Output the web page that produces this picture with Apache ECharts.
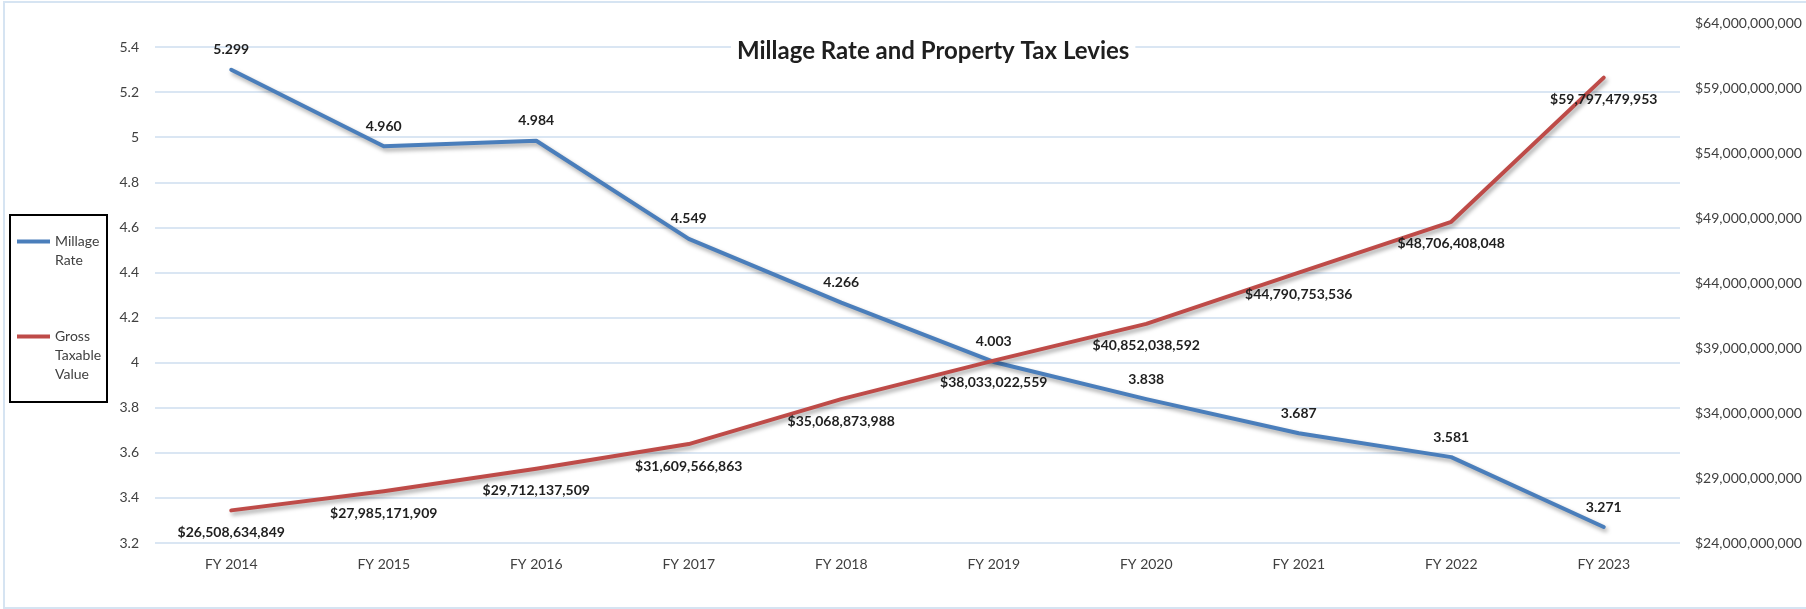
<!DOCTYPE html>
<html>
<head>
<meta charset="utf-8">
<script src="https://cdn.jsdelivr.net/npm/echarts@6/dist/echarts.min.js"></script>
<style>
  html, body { margin: 0; padding: 0; background: #ffffff; }
  #chart { width: 1806px; height: 609px; }
</style>
</head>
<body>
<div id="chart"></div>
<script>
// Fiscal years on the category axis
const categories = ['FY 2014', 'FY 2015', 'FY 2016', 'FY 2017', 'FY 2018',
                    'FY 2019', 'FY 2020', 'FY 2021', 'FY 2022', 'FY 2023'];

// Millage rate per year (left axis)
const millageRate = [5.299, 4.960, 4.984, 4.549, 4.266, 4.003, 3.838, 3.687, 3.581, 3.271];

// Gross taxable value per year in dollars (right axis)
const grossTaxableValue = [26508634849, 27985171909, 29712137509, 31609566863, 35068873988,
                           38033022559, 40852038592, 44790753536, 48706408048, 59797479953];

// Axis ranges and tick steps
const rateTicks = { min: 3.2, max: 5.4, interval: 0.2 };
const valueTicks = { min: 24000000000, max: 64000000000, interval: 5000000000 };

const FONT = 'Lato, "Noto Sans", sans-serif';
const BLUE = '#4A7EBB';
const RED = '#BE4B48';
const GRID_COLOR = '#DAE6F3';
const AXIS_TEXT = '#404040';
const LABEL_TEXT = '#1F1F1F';

const dollars = v => '$' + Math.round(v).toLocaleString('en-US');

// Legend text: one word per line, with the first line level with the swatch
// (legend text is centred on the swatch, so blank lines are added above)
const legendText = name => {
  const words = name.split(' ');
  return '\n'.repeat(words.length - 1) + words.join('\n');
};

const lineShadow = {
  shadowColor: 'rgba(0,0,0,0.35)',
  shadowBlur: 4,
  shadowOffsetX: 2,
  shadowOffsetY: 3
};

const chart = echarts.init(document.getElementById('chart'), null, { renderer: 'canvas' });

chart.setOption({
  animation: false,
  backgroundColor: '#ffffff',
  textStyle: { fontFamily: FONT },
  title: {
    text: 'Millage Rate and Property Tax Levies',
    left: 731,
    top: 33,
    padding: [4, 6],
    backgroundColor: '#ffffff',
    textStyle: {
      fontFamily: FONT,
      fontSize: 24,
      fontWeight: 'bold',
      color: LABEL_TEXT,
      lineHeight: 28
    }
  },
  legend: {
    orient: 'vertical',
    left: 10,
    top: 213,
    padding: [0, 5, 18, 7],
    itemGap: 19,
    itemWidth: 33,
    itemHeight: 4,
    icon: 'rect',
    selectedMode: false,
    formatter: legendText,
    textStyle: { fontFamily: FONT, fontSize: 14, color: AXIS_TEXT, lineHeight: 19 },
    data: ['Millage Rate', 'Gross Taxable Value']
  },
  graphic: [
    {
      // outer chart frame
      type: 'rect',
      silent: true,
      z: -1,
      shape: { x: 4, y: 2, width: 1810, height: 606 },
      style: { fill: null, stroke: '#D6E4F2', lineWidth: 2 }
    },
    {
      // legend frame
      type: 'rect',
      silent: true,
      shape: { x: 10, y: 215, width: 97, height: 187 },
      style: { fill: null, stroke: '#000000', lineWidth: 2 }
    }
  ],
  grid: [
    { left: 155, right: 126, top: 47, bottom: 66 },
    { left: 155, right: 126, top: 23, bottom: 66 }
  ],
  xAxis: [
    {
      type: 'category',
      gridIndex: 0,
      data: categories,
      boundaryGap: true,
      axisLine: { show: false },
      axisTick: { show: false },
      axisLabel: { fontFamily: FONT, fontSize: 14, color: AXIS_TEXT, margin: 13, lineHeight: 17 }
    },
    {
      type: 'category',
      gridIndex: 1,
      data: categories,
      boundaryGap: true,
      show: false
    }
  ],
  yAxis: [
    {
      type: 'value',
      gridIndex: 0,
      min: rateTicks.min,
      max: rateTicks.max,
      interval: rateTicks.interval,
      axisLine: { show: false },
      axisTick: { show: false },
      splitLine: { lineStyle: { color: GRID_COLOR, width: 2 } },
      axisLabel: {
        fontFamily: FONT, fontSize: 14, color: AXIS_TEXT, margin: 16,
        formatter: v => String(+v.toFixed(1))
      }
    },
    {
      type: 'value',
      gridIndex: 1,
      position: 'right',
      min: valueTicks.min,
      max: valueTicks.max,
      interval: valueTicks.interval,
      axisLine: { show: false },
      axisTick: { show: false },
      splitLine: { show: false },
      axisLabel: { fontFamily: FONT, fontSize: 14, color: AXIS_TEXT, margin: 15, formatter: dollars }
    }
  ],
  series: [
    {
      name: 'Millage Rate',
      type: 'line',
      xAxisIndex: 0,
      yAxisIndex: 0,
      data: millageRate,
      symbol: 'circle',
      symbolSize: 2,
      itemStyle: { color: BLUE },
      lineStyle: Object.assign({ color: BLUE, width: 4, cap: 'round', join: 'round' }, lineShadow),
      emphasis: { disabled: true },
      label: {
        show: true,
        position: 'top',
        distance: 10.5,
        formatter: p => p.value.toFixed(3),
        fontFamily: FONT,
        fontSize: 14,
        fontWeight: 'bold',
        lineHeight: 17,
        color: LABEL_TEXT
      },
      z: 3
    },
    {
      name: 'Gross Taxable Value',
      type: 'line',
      xAxisIndex: 1,
      yAxisIndex: 1,
      data: grossTaxableValue,
      symbol: 'circle',
      symbolSize: 2,
      itemStyle: { color: RED },
      lineStyle: Object.assign({ color: RED, width: 4, cap: 'round', join: 'round' }, lineShadow),
      emphasis: { disabled: true },
      label: {
        show: true,
        position: 'bottom',
        distance: 12.5,
        formatter: p => dollars(p.value),
        fontFamily: FONT,
        fontSize: 14,
        fontWeight: 'bold',
        lineHeight: 17,
        color: LABEL_TEXT
      },
      z: 4
    }
  ]
});
</script>
</body>
</html>
